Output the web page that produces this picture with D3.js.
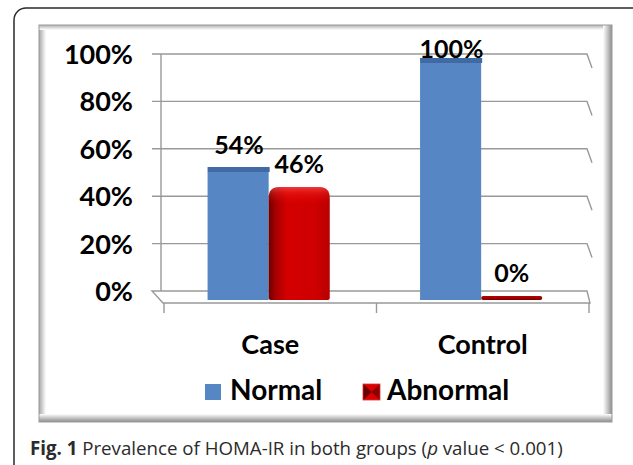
<!DOCTYPE html>
<html>
<head>
<meta charset="utf-8">
<script src="https://cdn.jsdelivr.net/npm/d3@7"></script>
<style>
  html, body { margin: 0; padding: 0; background: #fff; }
  svg { display: block; }
  .lbl { font-family: Lato, "Open Sans", sans-serif; font-weight: 700; fill: #000; }
  .cap { font-family: "Open Sans", "Noto Sans", sans-serif; fill: #2b2b2b; }
</style>
</head>
<body>
<script>
const categories = ["Case", "Control"];
const seriesNames = ["Normal", "Abnormal"];
const normalValues = [0.54, 1.00];
const abnormalValues = [0.46, 0.00];
const yTicks = [0, 0.2, 0.4, 0.6, 0.8, 1.0];

document.addEventListener("DOMContentLoaded", function () {
    const width = 633;
    const height = 465;
    const svg = d3.select("body").append("svg")
        .attr("width", width)
        .attr("height", height)
        .attr("viewBox", `0 0 ${width} ${height}`);

    const defs = svg.append("defs");
    const grad = (id, stops, vertical) => {
        const g = defs.append("linearGradient").attr("id", id)
            .attr("x1", 0).attr("y1", 0)
            .attr("x2", vertical ? 0 : 1).attr("y2", vertical ? 1 : 0);
        stops.forEach(s => g.append("stop").attr("offset", s[0]).attr("stop-color", s[1]).attr("stop-opacity", s[2] === undefined ? 1 : s[2]));
    };
    grad("redH", [[0, "#6e0000"], [0.12, "#a80000"], [0.3, "#d40000"], [0.75, "#cf0000"], [1, "#b80000"]]);
    grad("redTop", [[0, "#ff6060", 0.6], [0.06, "#ff3030", 0.3], [0.15, "#ff0000", 0]], true);
    grad("bevelL", [[0, "#a6a6a6"], [1, "#ffffff"]]);
    grad("bevelR", [[0, "#ffffff"], [0.5, "#c8c8c8"], [1, "#8c8c8c"]]);
    grad("bevelT", [[0, "#b0b0b0"], [1, "#ffffff"]], true);
    grad("bevelB", [[0, "#ffffff"], [0.5, "#c4c4c4"], [1, "#8c8c8c"]], true);
    grad("flat", [[0, "#c00000"], [1, "#7a0000"]], true);

    // outer rounded frame
    svg.append("rect")
        .attr("x", 14).attr("y", 8)
        .attr("width", 640).attr("height", 480)
        .attr("rx", 12)
        .attr("fill", "none")
        .attr("stroke", "#2a2a2a")
        .attr("stroke-width", 1.5);

    // chart frame with bevel
    const fx0 = 39, fy0 = 25, fx1 = 612, fy1 = 422;
    svg.append("rect").attr("x", fx0).attr("y", fy0).attr("width", fx1 - fx0).attr("height", fy1 - fy0)
        .attr("fill", "#fff");
    svg.append("rect").attr("x", fx0).attr("y", fy0).attr("width", 7).attr("height", fy1 - fy0).attr("fill", "url(#bevelL)");
    svg.append("rect").attr("x", fx0).attr("y", fy0).attr("width", fx1 - fx0).attr("height", 5).attr("fill", "url(#bevelT)");
    svg.append("rect").attr("x", fx1 - 9).attr("y", fy0).attr("width", 9).attr("height", fy1 - fy0).attr("fill", "url(#bevelR)");
    svg.append("rect").attr("x", fx0).attr("y", fy1 - 8).attr("width", fx1 - fx0).attr("height", 8).attr("fill", "url(#bevelB)");
    svg.append("rect").attr("x", fx0).attr("y", fy0).attr("width", fx1 - fx0).attr("height", fy1 - fy0)
        .attr("fill", "none").attr("stroke", "#9a9a9a").attr("stroke-width", 1);

    // scales
    const wallLeft = 161, wallRight = 587;
    const yWall = d3.scaleLinear().domain([0, 1]).range([291, 54]);
    const yFront = d3.scaleLinear().domain([0, 1]).range([300, 63]);
    const floorFront = 303;
    const x0 = d3.scaleBand().domain(categories).range([164, 589]);
    const bw = x0.bandwidth();
    const x1 = d3.scaleBand().domain(seriesNames).range([bw * 0.205, bw * 0.78]);

    const grid = svg.append("g")
        .attr("stroke", "#999")
        .attr("stroke-width", 1.4)
        .attr("fill", "none");

    // back wall gridlines with right side slant
    grid.selectAll(".gl")
        .data(yTicks.filter(t => t > 0))
        .join("path")
        .attr("d", t => `M152,${yWall(t)}H${wallRight}L${wallRight + 5},${yWall(t) + 14}`);
    grid.append("line")
        .attr("x1", wallLeft).attr("x2", wallLeft)
        .attr("y1", yWall(1)).attr("y2", yWall(0));

    // floor
    grid.append("path")
        .attr("d", `M152,${yWall(0)}H${wallRight}L${wallRight + 3},${floorFront}H${wallLeft + 2}Z`);
    grid.selectAll(".ft")
        .data([...categories.map(c => x0(c)), x0.range()[1]])
        .join("line")
        .attr("x1", d => d).attr("x2", d => d)
        .attr("y1", floorFront).attr("y2", floorFront + 10);

    // y labels
    const fmt = d3.format(".0%");
    svg.append("g").selectAll("text")
        .data(yTicks)
        .join("text")
        .attr("class", "lbl")
        .attr("x", 133)
        .attr("y", t => yWall(t) + 10)
        .attr("text-anchor", "end")
        .attr("font-size", 27)
        .text(fmt);

    // bars
    const rows = categories.map((c, i) => [
        { cat: c, key: "Normal", value: normalValues[i] },
        { cat: c, key: "Abnormal", value: abnormalValues[i] }
    ]);
    const groups = svg.append("g").selectAll("g")
        .data(rows)
        .join("g")
        .attr("transform", d => `translate(${x0(d[0].cat)},0)`);

    const base = yFront(0);
    const w = x1.bandwidth();

    groups.each(function (row) {
        const g = d3.select(this);
        row.forEach(d => {
            const bx = x1(d.key);
            const top = yFront(d.value);
            if (d.key === "Normal") {
                g.append("rect")
                    .attr("x", bx).attr("y", top)
                    .attr("width", w).attr("height", base - top)
                    .attr("fill", "#5686c4");
                g.append("rect")
                    .attr("x", bx).attr("y", top - 5)
                    .attr("width", w + 1).attr("height", 5)
                    .attr("fill", "#3f6aa3");
            } else if (d.value > 0) {
                const r = 11;
                const t = top - 4;
                const p = `M${bx},${base - 2}V${t + r}Q${bx},${t} ${bx + r},${t}H${bx + w - r}Q${bx + w},${t} ${bx + w},${t + r}V${base - 2}Q${bx + w},${base} ${bx + w - 3},${base}H${bx + 3}Q${bx},${base} ${bx},${base - 2}Z`;
                g.append("path").attr("d", p).attr("fill", "url(#redH)");
                g.append("path").attr("d", p).attr("fill", "url(#redTop)");
            } else {
                g.append("rect")
                    .attr("x", bx).attr("y", base - 4)
                    .attr("width", w).attr("height", 4)
                    .attr("rx", 2)
                    .attr("fill", "url(#flat)");
            }
            const ly = Math.max(top - 5 - 13, yWall(1) + 4);
            g.append("text")
                .attr("class", "lbl")
                .attr("x", bx + w / 2 + (d.key === "Normal" ? 1 : 0))
                .attr("y", ly)
                .attr("text-anchor", "middle")
                .attr("font-size", 25)
                .text(fmt(d.value));
        });
    });

    // category labels
    svg.append("g").selectAll("text")
        .data(categories)
        .join("text")
        .attr("class", "lbl")
        .attr("x", c => x0(c) + bw / 2)
        .attr("y", 354)
        .attr("text-anchor", "middle")
        .attr("font-size", 27)
        .text(c => c);

    // legend
    const legend = svg.append("g");
    const legendX = [205, 363];
    seriesNames.forEach((name, i) => {
        const lg = legend.append("g").attr("transform", `translate(${legendX[i]},384)`);
        if (name === "Normal") {
            lg.append("rect").attr("width", 16).attr("height", 16).attr("fill", "#5686c4");
        } else {
            lg.append("rect").attr("width", 17).attr("height", 16).attr("fill", "#8a0000");
            lg.append("path").attr("d", "M0,0H17L8.5,8ZM0,16H17L8.5,8Z").attr("fill", "#d80000");
            lg.append("path").attr("d", "M0,0L8.5,8L0,16Z").attr("fill", "#6a0000");
            lg.append("rect").attr("width", 17).attr("height", 16).attr("fill", "none").attr("stroke", "#e03030").attr("stroke-width", 0.8);
        }
        lg.append("text")
            .attr("class", "lbl")
            .attr("x", i === 0 ? 25 : 24)
            .attr("y", 15.5)
            .attr("font-size", 28)
            .text(name);
    });

    // caption
    const cap = svg.append("text")
        .attr("class", "cap")
        .attr("x", 30)
        .attr("y", 455)
        .attr("font-size", 18.7);
    cap.append("tspan").attr("font-weight", 700).text("Fig. 1");
    cap.append("tspan").text(" Prevalence of HOMA-IR in both groups (");
    cap.append("tspan").attr("font-style", "italic").text("p");
    cap.append("tspan").text(" value < 0.001)");
});
</script>
</body>
</html>
